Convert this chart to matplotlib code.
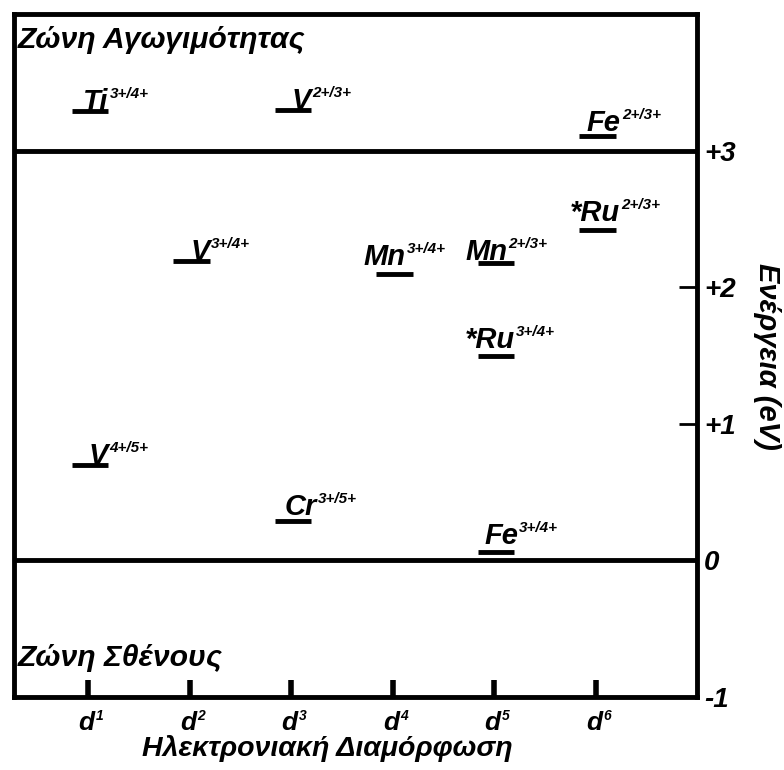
import matplotlib
matplotlib.use("Agg")
import matplotlib.pyplot as plt

plt.rcParams['font.family'] = ['Liberation Sans', 'DejaVu Sans']

# redox levels: name, superscript, d-count, energy (eV)
names = ['Ti', 'V', 'Fe', 'V', 'Mn', 'Mn', '*Ru', '*Ru', 'V', 'Cr', 'Fe']
charges = ['3+/4+', '2+/3+', '2+/3+', '3+/4+', '3+/4+', '2+/3+',
           '2+/3+', '3+/4+', '4+/5+', '3+/5+', '3+/4+']
d_count = [1, 3, 6, 2, 4, 5, 6, 5, 1, 3, 5]
energy = [3.29, 3.30, 3.11, 2.19, 2.10, 2.18, 2.42, 1.50, 0.70, 0.29, 0.06]

d_ticks = [1, 2, 3, 4, 5, 6]
d_labels = ['1', '2', '3', '4', '5', '6']
e_ticks = [3, 2, 1, 0, -1]
e_labels = ['+3', '+2', '+1', '0', '-1']

fig = plt.figure(figsize=(7.84, 7.70), dpi=100)
ax = fig.add_axes([14/784, 73/770, 683/784, 683/770])
ax.set_xlim(0.27, 7.0)
ax.set_ylim(-1, 4)

for s in ax.spines.values():
    s.set_linewidth(3.5)

# band edges
ax.axhline(3, color='black', lw=3.5)
ax.axhline(0, color='black', lw=3.5)

# text offsets (pixels) of each label relative to right end of its level
offs = [(0, 1), (0, 1), (5, 5), (0, 1), (-7, 9), (-7, 3),
        (4, 9), (1, 8), (0, 1), (6, 6), (4, 8)]

half = 0.18
fig.canvas.draw()
r = fig.canvas.get_renderer()
for n, c, d, e, (dx, dy) in zip(names, charges, d_count, energy, offs):
    x0 = d + 0.02
    ax.plot([x0 - half, x0 + half], [e, e], color='black', lw=3.5,
            solid_capstyle='butt')
    t = ax.annotate(n, (x0 + half, e), xytext=(dx * 0.72, dy * 0.72),
                    textcoords='offset points', ha='right', va='baseline',
                    fontsize=21, fontweight='bold', fontstyle='italic')
    bb = t.get_window_extent(r)
    ax.annotate(c, (bb.x1 + 1, bb.y1 + 1), xycoords='figure pixels',
                ha='left', va='top', fontsize=11, fontweight='bold',
                fontstyle='italic')

ax.text(0.006, 0.983, 'Ζώνη Αγωγιμότητας', transform=ax.transAxes,
        ha='left', va='top', fontsize=21.7, fontweight='bold',
        fontstyle='italic')
ax.text(0.006, 0.045, 'Ζώνη Σθένους', transform=ax.transAxes,
        ha='left', va='baseline', fontsize=21.7, fontweight='bold',
        fontstyle='italic')

# x axis: d-configurations
ax.set_xticks(d_ticks)
ax.set_xticklabels([])
ax.tick_params(axis='x', direction='in', length=12, width=4, bottom=True)
for x, lab in zip(d_ticks, d_labels):
    t = ax.annotate('d', (x, -1), xytext=(-1, -10), textcoords='offset points',
                    ha='center', va='top', fontsize=19, fontweight='bold',
                    fontstyle='italic')
    bb = t.get_window_extent(r)
    ax.annotate(lab, (bb.x1 + 1, bb.y1 + 2), xycoords='figure pixels',
                ha='left', va='top', fontsize=10, fontweight='bold',
                fontstyle='italic')
fig.text(327/784, 1 - 748/770, 'Ηλεκτρονιακή Διαμόρφωση', ha='center',
         va='center', fontsize=20.5, fontweight='bold', fontstyle='italic')

# y axis on the right
ax.yaxis.tick_right()
ax.set_yticks(e_ticks)
ax.set_yticklabels(e_labels, fontsize=20, fontweight='bold', fontstyle='italic')
ax.tick_params(axis='y', direction='in', length=13, width=2, pad=5, left=False)
fig.text(767/784, 1 - 356/770, 'Ενέργεια (eV)', ha='center', va='center',
         rotation=270, fontsize=21, fontweight='bold', fontstyle='italic')

fig.savefig('out.png', dpi=100)
